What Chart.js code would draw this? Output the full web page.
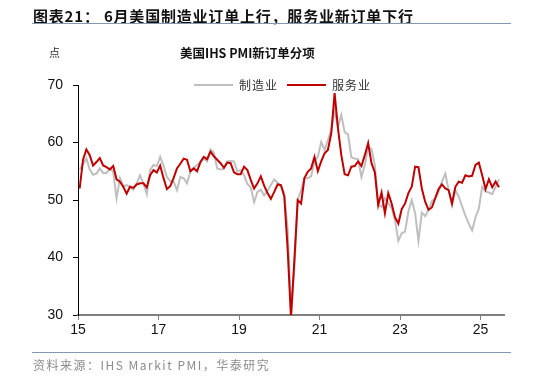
<!DOCTYPE html>
<html>
<head>
<meta charset="utf-8">
<script src="https://cdn.jsdelivr.net/npm/chart.js@4"></script>
<style>
  body { margin: 0; background: #fff; }
  #wrap { position: relative; width: 534px; height: 377px; overflow: hidden; font-family: "Liberation Sans", "Noto Sans CJK SC", sans-serif; }
  #chart { position: absolute; left: 0; top: 0; }
  .abs { position: absolute; white-space: nowrap; }
  .rule { position: absolute; height: 1px; background: #8497b0; }
  .key { position: absolute; height: 2px; width: 39px; }
</style>
</head>
<body>
<div id="wrap">
  <canvas id="chart" width="534" height="377"></canvas>
  <div class="abs" style="left:33px;top:5px;font:bold 15px 'Noto Sans CJK SC';letter-spacing:0.8px;color:#111;">图表21：&nbsp;6月美国制造业订单上行，服务业新订单下行</div>
  <div class="rule" style="left:32px;top:23px;width:479px;"></div>
  <div class="abs" style="left:49px;top:44px;font:11px 'Noto Sans CJK SC';color:#333;">点</div>
  <div class="abs" style="left:180px;top:43px;font:bold 12.5px 'Noto Sans CJK SC';color:#111;">美国IHS PMI新订单分项</div>
  <div class="key" style="left:194px;top:84px;background:#bfbfbf;"></div>
  <div class="abs" style="left:239px;top:76px;font:12px 'Noto Sans CJK SC';letter-spacing:1px;color:#333;">制造业</div>
  <div class="key" style="left:287px;top:84px;background:#c00000;"></div>
  <div class="abs" style="left:332px;top:76px;font:12px 'Noto Sans CJK SC';letter-spacing:1px;color:#333;">服务业</div>
  <div class="rule" style="left:32px;top:352px;width:479px;"></div>
  <div class="abs" style="left:33px;top:356px;font:12px 'Noto Sans CJK SC';letter-spacing:1.5px;color:#8c8c8c;">资料来源：IHS Markit PMI，华泰研究</div>
</div>
<script>
// monthly readings, Jan 2015 .. Jun 2025
const startYear = 2015;
const yearLabels = ["15", "17", "19", "21", "23", "25"];

const manufacturing = [
  55.3, 56.2, 57.2, 55.3, 54.4, 54.6, 55.5, 54.7, 54.7, 55.5, 54.9, 50.3,
  53.8, 52.4, 52.6, 52.3, 51.8, 52.9, 54.3, 52.9, 51.0, 55.2, 56.1, 55.9,
  57.5, 56.0, 54.0, 53.3, 53.2, 51.7, 54.0, 53.8, 52.9, 54.9, 55.6, 56.1,
  56.5, 57.2, 56.7, 58.8, 58.2, 55.5, 55.3, 55.4, 56.7, 56.8, 56.7, 55.0,
  55.2, 54.3, 52.8, 52.2, 49.6, 51.4, 51.8, 50.8, 51.6, 52.6, 53.6, 53.0,
  52.4, 51.2, 45.0, 31.0, 38.0, 50.0, 51.7, 53.8, 53.8, 54.1, 56.7, 57.5,
  60.1, 58.7, 60.4, 62.2, 65.5, 62.7, 64.8, 61.8, 61.4, 57.4, 57.2, 57.1,
  54.0, 56.1, 59.2, 58.9, 56.0, 49.1, 48.8, 50.3, 49.4, 48.6, 46.5, 42.9,
  44.2, 44.5, 48.0, 50.0, 47.7, 42.9, 47.8, 47.2, 48.3, 49.8, 50.3, 51.5,
  53.2, 54.6, 51.7, 49.1, 51.7, 50.6, 48.9, 47.3, 45.9, 44.7, 47.0, 48.5,
  52.3, 51.5, 51.3, 51.0, 52.3, 53.6
];

const services = [
  52.0, 57.0, 58.8, 57.8, 56.0, 56.6, 57.3, 56.0, 55.7, 55.3, 55.9, 53.6,
  53.2, 52.3, 51.1, 52.3, 52.1, 52.7, 52.9, 52.9, 52.2, 54.3, 55.2, 54.8,
  56.0, 53.8, 51.9, 52.4, 53.8, 55.5, 56.3, 57.2, 57.0, 55.0, 55.5, 55.0,
  56.6, 57.5, 57.1, 58.4, 57.6, 57.0, 56.4, 55.6, 56.5, 56.4, 54.8, 54.5,
  54.5, 55.8, 55.2, 53.5, 52.0, 52.9, 54.1, 52.5, 51.2, 50.2, 51.4, 52.7,
  52.6, 50.6, 41.5, 29.5, 39.5, 50.0, 49.4, 53.8, 54.9, 55.5, 57.5, 55.0,
  56.7, 58.1, 58.7, 61.6, 68.6, 62.5, 57.8, 54.5, 54.3, 55.8, 55.9, 56.7,
  55.9, 57.8, 59.9, 56.4, 54.8, 49.1, 51.3, 47.7, 51.2, 49.4, 47.0, 45.9,
  48.4, 49.4, 51.2, 52.3, 55.8, 55.7, 52.0, 49.7, 48.3, 48.7, 50.3, 51.9,
  52.7, 52.0, 51.7, 49.4, 52.3, 53.2, 53.0, 54.3, 54.1, 54.2, 56.1, 56.5,
  54.3, 51.9, 53.6, 52.2, 53.2, 52.2
];

// months since Jan 2015, plotted mid-month
function toPoints(values) {
  return values.map((v, i) => ({ x: i + 0.5, y: v }));
}

const ctx = document.getElementById("chart").getContext("2d");

new Chart(ctx, {
  type: "line",
  data: {
    datasets: [
      {
        label: "服务业",
        data: toPoints(services),
        borderColor: "#c00000",
        borderWidth: 2,
        pointRadius: 0,
        tension: 0,
        order: 0,
      },
      {
        label: "制造业",
        data: toPoints(manufacturing),
        borderColor: "#bfbfbf",
        borderWidth: 2,
        pointRadius: 0,
        tension: 0,
        order: 1,
      },
    ],
  },
  options: {
    responsive: false,
    animation: false,
    devicePixelRatio: 1,
    layout: { padding: { left: 0, right: 30, top: 85, bottom: 0 } },
    plugins: {
      legend: { display: false },
      tooltip: { enabled: false },
    },
    scales: {
      x: {
        type: "linear",
        min: 0,
        max: 127,
        afterBuildTicks: (scale) => {
          scale.ticks = yearLabels.map((_, k) => ({ value: k * 24 }));
        },
        afterFit: (scale) => {
          scale.height = 62;
        },
        ticks: {
          autoSkip: false,
          maxRotation: 0,
          padding: 2,
          color: "#111",
          font: { family: "Liberation Sans", size: 14 },
          callback: (value) => yearLabels[Math.round(value / 24)],
        },
        grid: { drawOnChartArea: false, drawTicks: true, tickLength: 5, color: "#7f7f7f" },
        border: { display: true, color: "#7f7f7f", width: 2 },
      },
      y: {
        min: 30,
        max: 70,
        afterFit: (scale) => {
          scale.width = 78;
        },
        ticks: {
          stepSize: 10,
          padding: 10,
          color: "#111",
          font: { family: "Liberation Sans", size: 14 },
        },
        grid: { drawOnChartArea: false, drawTicks: true, tickLength: 5, color: "#000" },
        border: { display: true, color: "#000", width: 1 },
      },
    },
  },
});
</script>
</body>
</html>
